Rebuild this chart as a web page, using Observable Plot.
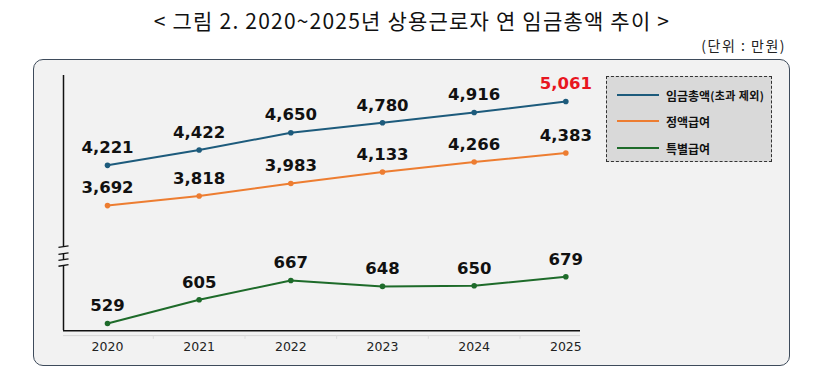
<!DOCTYPE html>
<html><head><meta charset="utf-8">
<script src="https://cdn.jsdelivr.net/npm/d3@7"></script>
<script src="https://cdn.jsdelivr.net/npm/@observablehq/plot@0.6"></script>
<style>
body{margin:0;background:#fff;font-family:"Noto Sans CJK KR","Noto Sans",sans-serif;}
#wrap{position:relative;width:824px;height:390px;overflow:hidden;}
#title{position:absolute;left:0;top:5px;width:824px;text-align:center;font-size:21px;letter-spacing:1.2px;color:#111;}
#unit{position:absolute;right:38px;top:35px;font-size:14px;letter-spacing:1.5px;color:#222;}
#panel{position:absolute;left:33px;top:59px;width:755px;height:305px;border:1.6px solid #3e4b5b;border-radius:10px;background:#f2f2f2;}
#legend{position:absolute;left:606px;top:76px;width:164px;height:84px;border:1.2px dashed #333;background:#d9d9d9;}
.li{position:absolute;left:10px;height:20px;display:flex;align-items:center;font-weight:700;font-size:12px;color:#111;}
.sw{width:42px;height:0;border-top:2.5px solid;margin-right:7px;}
.sm{font-size:11px;letter-spacing:0.4px;}
#chart{position:absolute;left:0;top:0;}
</style></head>
<body><div id="wrap">
<div id="title">&lt; 그림 2. 2020~2025년 상용근로자 연 임금총액 추이 &gt;</div>
<div id="unit">(단위 : 만원)</div>
<div id="panel"></div>
<div id="chart"></div>
<div id="legend"></div>
</div>
<script>
const years = [2020, 2021, 2022, 2023, 2024, 2025];
const totalWage = [4221, 4422, 4650, 4780, 4916, 5061];
const fixedWage = [3692, 3818, 3983, 4133, 4266, 4383];
const specialWage = [529, 605, 667, 648, 650, 679];
const seriesNames = ["임금총액", "정액급여", "특별급여"];
const seriesColors = ["#1d5b7c", "#ed7d31", "#1e6b2a"];

const seriesValues = [totalWage, fixedWage, specialWage];
const rows = [];
seriesValues.forEach((vals, s) => vals.forEach((v, i) => rows.push({series: seriesNames[s], year: years[i], value: v, last: s === 0 && i === years.length - 1})));

const xL = 2019.52, xR = 2025.16;
const yAxisBottom = 506, yAxisTop = 5402;
const crossbars = [2905, 2983, 3062, 3154];
const axisSegments = [[yAxisBottom, 2905], [2983, 3062], [3154, yAxisTop]];
const fmt = d3.format(",");
const labelFont = "DejaVu Sans, sans-serif";

const chart = Plot.plot({
  width: 824, height: 390,
  style: {background: "transparent", overflow: "visible"},
  x: {type: "linear", domain: [xL, xR], range: [63, 580], axis: null},
  y: {type: "linear", domain: [440, 699, 2839, 5402], range: [350.7, 270, 270, 75], axis: null},
  color: {domain: seriesNames, range: seriesColors},
  marks: [
    Plot.ruleY([490], {x1: xL, x2: xR, stroke: "#d6d6d6", strokeWidth: 1}),
    Plot.ruleX([2020.5, 2021.5, 2022.5, 2023.5, 2024.5], {y1: 490, y2: 478, stroke: "#dcdcdc", strokeWidth: 1}),
    Plot.ruleY([yAxisBottom], {x1: xL, x2: xR, stroke: "#111", strokeWidth: 1.5}),
    Plot.ruleX(axisSegments, {x: () => xL, y1: d => d[0], y2: d => d[1], stroke: "#111", strokeWidth: 1.5}),
    Plot.link(crossbars, {x1: xL - 0.055, x2: xL + 0.055, y1: d => d - 10, y2: d => d + 10, stroke: "#111", strokeWidth: 1.3}),
    Plot.line(rows, {x: "year", y: "value", z: "series", stroke: "series", strokeWidth: 2}),
    Plot.dot(rows, {x: "year", y: "value", fill: "series", r: 2.8}),
    Plot.text(rows, {x: "year", y: "value", text: d => fmt(d.value), dy: -17.5, fontSize: 16.5, fontWeight: 700,
      fill: d => d.last ? "#e8161f" : "#111", fontFamily: labelFont}),
    Plot.text(years, {x: d => d, y: 452, text: d => String(d), fontSize: 12.5, fill: "#222", fontFamily: labelFont})
  ]
});
document.getElementById("chart").appendChild(chart);

const legend = document.getElementById("legend");
const tops = [8, 34, 61];
seriesNames.forEach((n, i) => {
  const d = document.createElement("div");
  d.className = "li";
  d.style.top = tops[i] + "px";
  d.innerHTML = `<span class="sw" style="border-color:${seriesColors[i]}"></span>${n}` + (i === 0 ? `<span class="sm">(초과 제외)</span>` : "");
  legend.appendChild(d);
});
</script>
</body></html>
